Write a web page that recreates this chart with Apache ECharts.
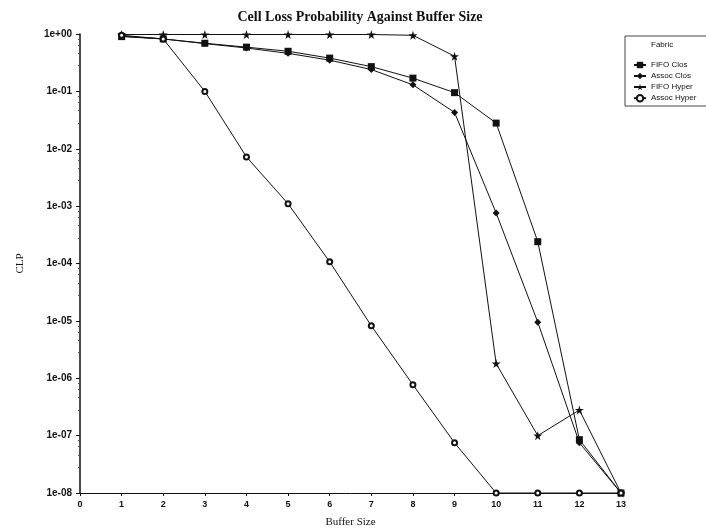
<!DOCTYPE html>
<html>
<head>
<meta charset="utf-8">
<script src="https://cdn.jsdelivr.net/npm/echarts@6/dist/echarts.min.js"></script>
<style>
  html, body { margin: 0; padding: 0; background: #fff; }
  #chart { width: 706px; height: 532px; }
</style>
</head>
<body>
<div id="chart"></div>
<script>
// Buffer sizes and cell loss probability per switching fabric
const bufferSizes = [1, 2, 3, 4, 5, 6, 7, 8, 9, 10, 11, 12, 13];
const fifoClos   = [0.9, 0.82, 0.69, 0.59, 0.5, 0.38, 0.27, 0.17, 0.095, 0.028, 2.4e-4, 8.5e-8, 1e-8];
const assocClos  = [0.92, 0.82, 0.68, 0.57, 0.46, 0.35, 0.24, 0.13, 0.043, 7.6e-4, 9.5e-6, 7.5e-8, 1e-8];
const fifoHyper  = [0.98, 0.98, 0.98, 0.98, 0.98, 0.98, 0.98, 0.95, 0.41, 1.8e-6, 1e-7, 2.8e-7, 1e-8];
const assocHyper = [0.95, 0.82, 0.1, 0.0072, 1.1e-3, 1.07e-4, 8.2e-6, 7.7e-7, 7.5e-8, 1e-8, 1e-8, 1e-8, 1e-8];
const yTickLabels = ['1e-08', '1e-07', '1e-06', '1e-05', '1e-04', '1e-03', '1e-02', '1e-01', '1e+00'];

const STAR = 'path://M50,0 L61,35 L98,35 L68,57 L79,91 L50,70 L21,91 L32,57 L2,35 L39,35 Z';

function pairs(values) {
  return bufferSizes.map((x, i) => [x, values[i]]);
}

function lineSeries(name, values, symbol, size) {
  return {
    name: name,
    type: 'line',
    data: pairs(values),
    symbol: symbol,
    symbolSize: size,
    showAllSymbol: true,
    lineStyle: { color: '#111', width: 1 },
    itemStyle: { color: '#111', borderWidth: 1 },
    emphasis: { disabled: true },
    animation: false
  };
}

const chart = echarts.init(document.getElementById('chart'), null, { renderer: 'canvas' });

chart.setOption({
  backgroundColor: '#fff',
  animation: false,
  title: {
    text: 'Cell Loss Probability Against Buffer Size',
    left: 355,
    textAlign: 'center',
    top: 5,
    textStyle: { fontFamily: 'Liberation Serif', fontWeight: 'bold', fontSize: 14, color: '#111' }
  },
  grid: { left: 80, right: 85, top: 34, bottom: 39, containLabel: false, outerBoundsMode: 'none' },
  xAxis: {
    type: 'value',
    min: 0,
    max: 13,
    interval: 1,
    name: 'Buffer Size',
    nameLocation: 'middle',
    nameGap: 24,
    nameTextStyle: { fontFamily: 'Liberation Serif', fontSize: 11, color: '#111' },
    axisLine: { lineStyle: { color: '#111', width: 1 } },
    axisTick: { show: true, length: 3, lineStyle: { color: '#111' } },
    axisLabel: { fontFamily: 'Liberation Sans', fontSize: 9, fontWeight: 'bold', color: '#111', margin: 7 },
    splitLine: { show: false }
  },
  yAxis: {
    type: 'log',
    logBase: 10,
    min: 1e-8,
    max: 1,
    name: 'CLP',
    nameLocation: 'middle',
    nameGap: 54,
    nameRotate: 90,
    nameTextStyle: { fontFamily: 'Liberation Serif', fontSize: 11, color: '#111' },
    axisLine: { lineStyle: { color: '#111', width: 1.5 } },
    axisTick: { show: true, length: 4, lineStyle: { color: '#111' } },
    minorTick: { show: true, splitNumber: 5, length: 2, lineStyle: { color: '#555' } },
    axisLabel: {
      fontFamily: 'Liberation Sans', fontSize: 10, fontWeight: 'bold', color: '#111', margin: 8,
      formatter: function (v) {
        const e = Math.round(Math.log10(v));
        return yTickLabels[e + 8];
      }
    },
    splitLine: { show: false }
  },
  legend: {
    orient: 'vertical',
    left: 628,
    top: 56,
    itemGap: 3,
    itemWidth: 12,
    itemHeight: 8,
    textStyle: { fontFamily: 'Liberation Sans', fontSize: 8, color: '#111', padding: [0, 0, 0, 0] },
    selectedMode: false,
    data: ['FIFO Clos', 'Assoc Clos', 'FIFO Hyper', 'Assoc Hyper']
  },
  graphic: [
    {
      type: 'polyline',
      shape: { points: [[712, 36], [625, 36], [625, 106], [712, 106]] },
      style: { stroke: '#444', lineWidth: 1, fill: null },
      silent: true
    },
    {
      type: 'text',
      left: 651,
      top: 41,
      style: { text: 'Fabric', font: '8px "Liberation Sans"', fill: '#111' },
      silent: true
    }
  ],
  series: [
    lineSeries('FIFO Clos', fifoClos, 'rect', 7),
    lineSeries('Assoc Clos', assocClos, 'diamond', 7),
    lineSeries('FIFO Hyper', fifoHyper, STAR, 9),
    lineSeries('Assoc Hyper', assocHyper, 'emptyCircle', 5)
  ]
});
</script>
</body>
</html>
